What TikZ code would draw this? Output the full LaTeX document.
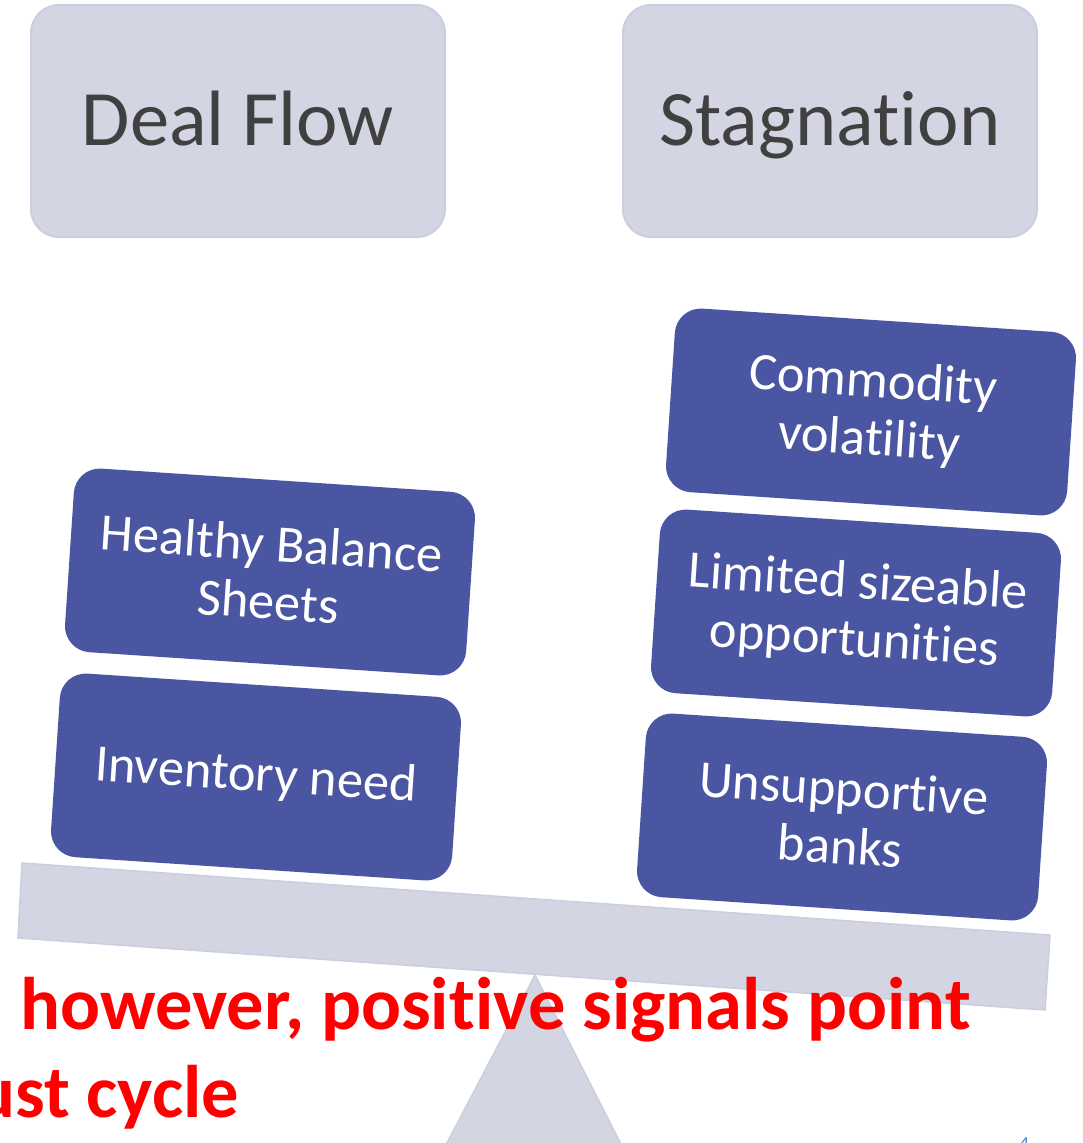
\documentclass[tikz,border=0pt]{standalone}
\usepackage{fontspec}
\setmainfont{Carlito}[Ligatures=NoCommon, RawFeature={-liga;-clig;-calt}]
\definecolor{headerfill}{RGB}{211,213,227}
\definecolor{headerline}{RGB}{203,206,222}
\definecolor{headertext}{RGB}{64,64,64}
\definecolor{factorfill}{RGB}{74,86,162}
\definecolor{signalred}{RGB}{255,0,0}
\definecolor{pageblue}{RGB}{74,144,226}
\begin{document}
\begin{tikzpicture}[x=1pt,y=-1pt,
  header/.style={draw=headerline, line width=2pt, fill=headerfill,
    rounded corners=28pt, minimum width=414pt, minimum height=232pt,
    inner sep=0pt, text=headertext, font=\fontsize{78.5}{90}\selectfont,
    text height=55pt, text depth=7pt},
  factor/.style={fill=factorfill, rounded corners=26pt,
    minimum width=402pt, minimum height=184pt, inner sep=0pt,
    rotate=-3.8, text=white, align=center,
    font=\fontsize{52.5}{58}\selectfont},
  scalepart/.style={draw=headerline, line width=1.5pt, fill=headerfill},
  signal/.style={inner sep=0pt, text=signalred,
    font=\bfseries\fontsize{74.5}{88}\selectfont}]
\useasboundingbox (0,0) rectangle (1082,1143);

% the two sides of the balance
\node[header] (deal) at (238,121) {Deal Flow};
\node[header] (stag) at (830,121) {Stagnation};

% fulcrum and beam
\draw[scalepart] (535,975) -- (629,1160) -- (438,1160) -- cycle;
\draw[scalepart] (22,863) -- (1050,935) -- (1045,1010) -- (18,938) -- cycle;

% weights on the left pan
\node[factor] (healthy) at (270,572) {Healthy Balance\\Sheets};
\node[factor] (inventory) at (256,777) {Inventory need};

% weights on the right pan
\node[factor] (commodity) at (871,412) {Commodity\\volatility};
\node[factor] (limited) at (856,613) {Limited sizeable\\opportunities};
\node[factor] (banks) at (842,817) {Unsupportive\\banks};

% closing message
\node[signal, anchor=base west] (line1) at (20,1029) {however, positive signals point};
\node[signal, anchor=base west] (line2) at (-25,1117) {ust cycle};

% page number
\node[inner sep=0pt, anchor=north west, text=pageblue,
  font=\fontsize{20}{24}\selectfont] (page) at (1019,1137) {4};
\end{tikzpicture}
\end{document}
